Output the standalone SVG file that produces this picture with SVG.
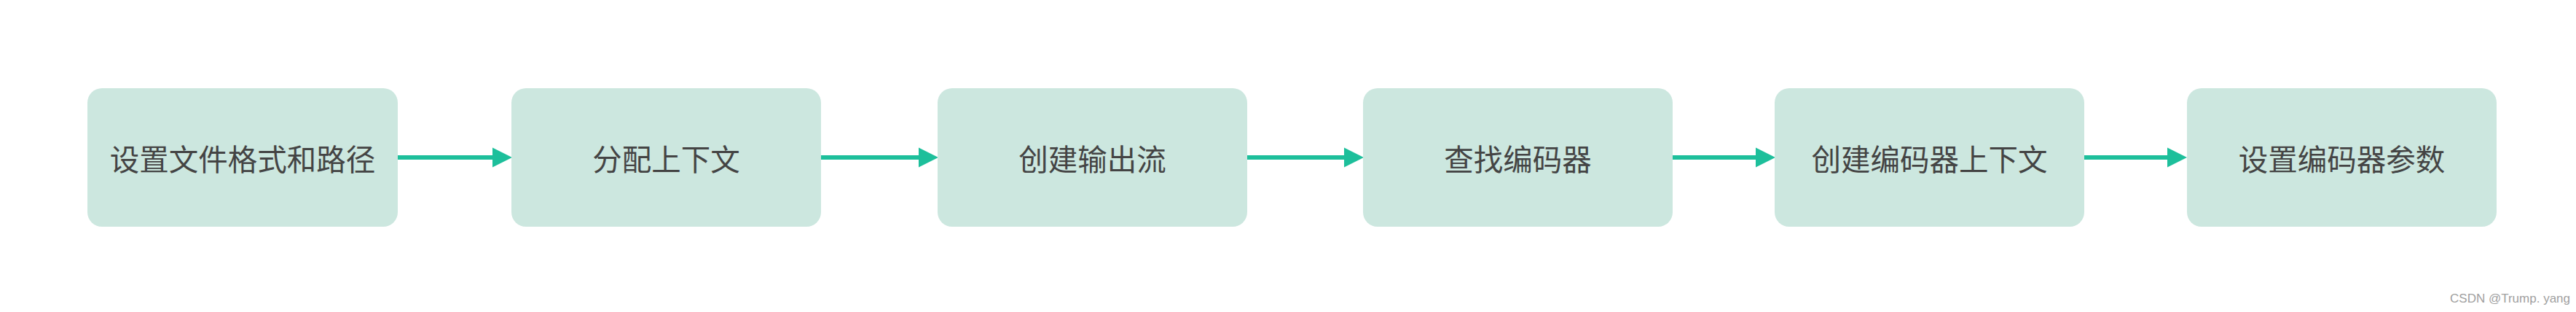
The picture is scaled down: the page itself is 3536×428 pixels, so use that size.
<svg xmlns="http://www.w3.org/2000/svg" width="3536" height="428" viewBox="0 0 3536 428">
<style>
.node rect{fill:#cce7df;}
.node text{font-family:"Microsoft YaHei","Noto Sans CJK SC","Noto Sans",sans-serif;font-size:40.5px;fill:#444444;text-anchor:middle;}
.edge{stroke:#1dbf9b;stroke-width:6;fill:none;marker-end:url(#arrow);}
.wm{font-family:"Liberation Sans",Arial,sans-serif;font-size:17px;fill:#a0a0a0;text-anchor:end;}
</style>
<defs>
<marker id="arrow" markerUnits="userSpaceOnUse" markerWidth="28" markerHeight="28" refX="0" refY="13.5" orient="auto" viewBox="0 0 28 27">
<path d="M0,0 L27,13.5 L0,27 Z" fill="#1dbf9b"/>
</marker>
</defs>
<rect width="3536" height="428" fill="#ffffff"/>
<g id="connectors">
<line class="edge" x1="545" y1="216" x2="676" y2="216"/>
<line class="edge" x1="1126" y1="216" x2="1261" y2="216"/>
<line class="edge" x1="1711" y1="216" x2="1845" y2="216"/>
<line class="edge" x1="2295" y1="216" x2="2410" y2="216"/>
<line class="edge" x1="2860" y1="216" x2="2975" y2="216"/>
</g>
<g id="n1" class="node"><rect x="120" y="121" width="426" height="190" rx="20" ry="20"/><text x="333" y="234">设置文件格式和路径</text></g>
<g id="n2" class="node"><rect x="702" y="121" width="425" height="190" rx="20" ry="20"/><text x="914.5" y="234">分配上下文</text></g>
<g id="n3" class="node"><rect x="1287" y="121" width="425" height="190" rx="20" ry="20"/><text x="1499.5" y="234">创建输出流</text></g>
<g id="n4" class="node"><rect x="1871" y="121" width="425" height="190" rx="20" ry="20"/><text x="2083.5" y="234">查找编码器</text></g>
<g id="n5" class="node"><rect x="2436" y="121" width="425" height="190" rx="20" ry="20"/><text x="2648.5" y="234">创建编码器上下文</text></g>
<g id="n6" class="node"><rect x="3002" y="121" width="425" height="190" rx="20" ry="20"/><text x="3214.5" y="234">设置编码器参数</text></g>
<text class="wm" x="3528" y="415">CSDN @Trump. yang</text>
</svg>
